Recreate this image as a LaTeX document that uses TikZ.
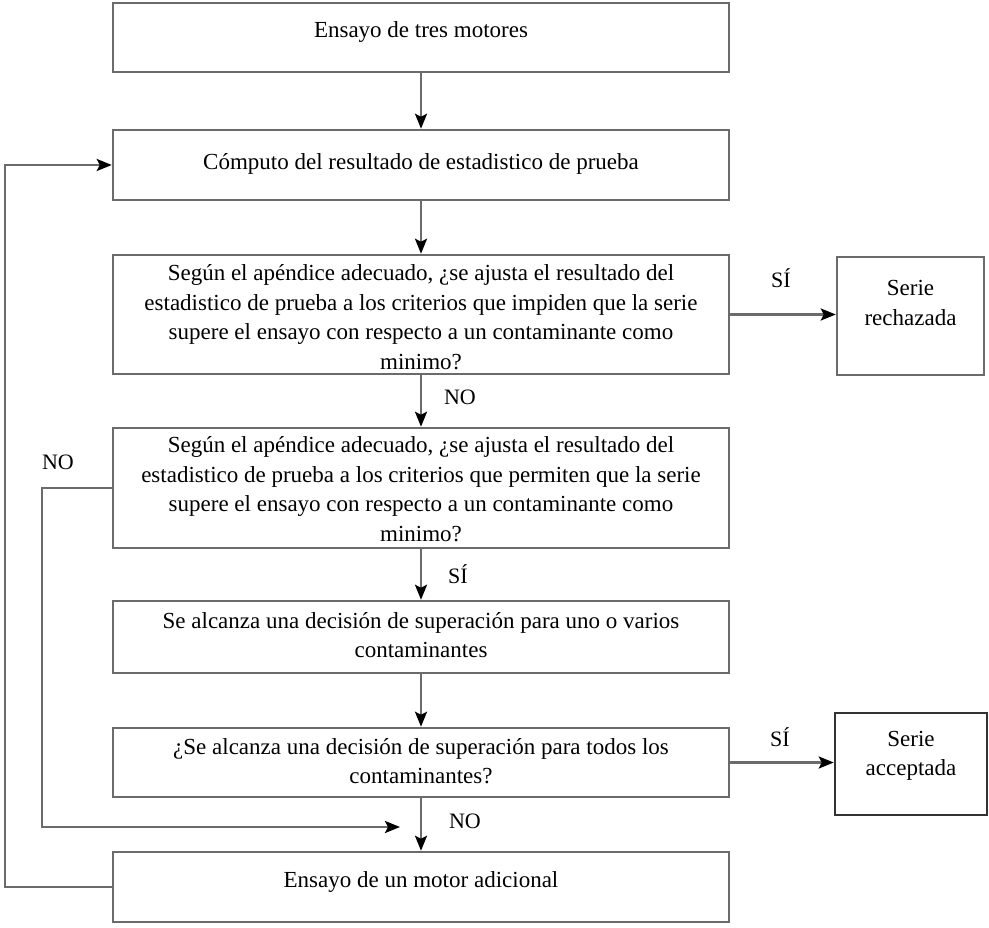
\documentclass[tikz,border=0pt]{standalone}
\usepackage{fontspec}
\setmainfont{Liberation Serif}
\usetikzlibrary{arrows.meta}
\begin{document}
\begin{tikzpicture}[x=1pt,y=-1pt,
  box/.style={draw=black!58, line width=2.5pt, inner sep=0pt, fill=none},
  darkbox/.style={draw=black!80, line width=2.5pt, inner sep=0pt},
  txt/.style={font=\fontsize{23}{29.5}\selectfont, align=center, inner sep=0pt},
  lbl/.style={font=\fontsize{22}{24}\selectfont, inner sep=0pt},
  conn/.style={draw=black!58, line width=2.5pt, -{Stealth[length=15pt,width=12pt,inset=3pt,color=black,fill=black]}},
  line/.style={draw=black!58, line width=2.5pt}
]
\useasboundingbox (0,0) rectangle (989,928);

% boxes
\node[box, minimum width=616pt, minimum height=69pt] (b1) at (421,37.5) {};
\node[box, minimum width=616pt, minimum height=70pt] (b2) at (421,165) {};
\node[box, minimum width=616pt, minimum height=119pt] (b3) at (421,314.5) {};
\node[box, minimum width=616pt, minimum height=120pt] (b4) at (421,488) {};
\node[box, minimum width=616pt, minimum height=72pt] (b5) at (421,637) {};
\node[box, minimum width=616pt, minimum height=69pt] (b6) at (421,762.5) {};
\node[box, minimum width=616pt, minimum height=70pt] (b7) at (421,887) {};
\node[box, minimum width=147pt, minimum height=118pt] (rech) at (910.5,316) {};
\node[darkbox, minimum width=152pt, minimum height=102pt] (acep) at (911,764) {};

% texts
\node[txt] (t1) at (421,32) {Ensayo de tres motores};
\node[txt] (t2) at (421,164) {Cómputo del resultado de estadistico de prueba};
\node[txt] (t3) at (421,317) {Según el apéndice adecuado, ¿se ajusta el resultado del\\estadistico de prueba a los criterios que impiden que la serie\\supere el ensayo con respecto a un contaminante como\\minimo?};
\node[txt] (t4) at (421,489) {Según el apéndice adecuado, ¿se ajusta el resultado del\\estadistico de prueba a los criterios que permiten que la serie\\supere el ensayo con respecto a un contaminante como\\minimo?};
\node[txt] (t5) at (421,635) {Se alcanza una decisión de superación para uno o varios\\contaminantes};
\node[txt] (t6) at (421,761) {¿Se alcanza una decisión de superación para todos los\\contaminantes?};
\node[txt] (t7) at (421,882) {Ensayo de un motor adicional};
\node[txt] (t8) at (910.5,303) {Serie\\rechazada};
\node[txt] (t9) at (911,756) {Serie\\acceptada};

% labels
\node[lbl] (l1) at (460,397) {NO};
\node[lbl] (l2) at (458,574) {SÍ};
\node[lbl] (l3) at (465,821) {NO};
\node[lbl] (l4) at (781,278) {SÍ};
\node[lbl] (l5) at (780,737) {SÍ};
\node[lbl] (l6) at (58,462) {NO};

% coordinates
\coordinate (c1) at (400,827);
\coordinate (c2) at (42,827);
\coordinate (o1) at (5,887);

% connectors
\draw[conn] (b1.south) -- (b2.north);
\draw[conn] (b2.south) -- (b3.north);
\draw[conn] (b3.south) -- (b4.north);
\draw[conn] (b4.south) -- (b5.north);
\draw[conn] (b5.south) -- (b6.north);
\draw[conn] (b6.south) -- (b7.north);
\draw[conn] (b3.east) -- (rech.west |- b3.east);
\draw[conn] (b6.east) -- (acep.west |- b6.east);
\draw[conn] (b4.west) -| (c2) -- (c1);
\draw[conn] (b7.west) -- (o1) |- (b2.west);
\end{tikzpicture}
\end{document}
